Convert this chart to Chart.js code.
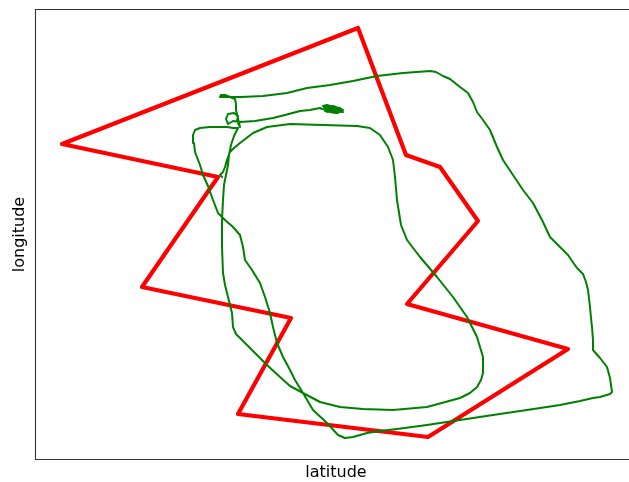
<!DOCTYPE html>
<html>
<head>
<meta charset="utf-8">
<script src="https://cdn.jsdelivr.net/npm/chart.js@4/dist/chart.umd.min.js"></script>
<style>
  html, body { margin: 0; padding: 0; overflow: hidden; background: #fff; }
  #wrap { width: 640px; height: 482px; }
</style>
</head>
<body>
<div id="wrap"><canvas id="chart" width="640" height="482"></canvas></div>
<script>
// Survey boundary (closed polygon), local grid units
const boundaryLat = [322, 370, 404, 442, 371, 532, 392, 202, 255, 106, 182, 26, 322];
const boundaryLon = [431, 304, 292, 238, 155, 110, 22, 45, 141, 172, 282, 315, 431];

// Recorded GPS track, local grid units (starts with the fixes logged while standing still)
const trackLat = [
  288, 294, 302, 307, 304, 296, 289, 292, 299, 306, 301, 293, 290, 297, 305, 303, 295, 291,
  302, 306, 300, 294, 290, 287, 291, 297, 304, 307, 299, 292, 286,
  284, 274, 264, 249, 237, 219, 204,
  197, 192, 190, 192, 198, 202, 201, 204,
  200, 200, 199, 194, 189, 185, 184, 188, 194,
  205, 227, 251, 271, 294, 317, 341, 367, 394, 400, 407, 414, 424, 432, 437, 441, 447, 454,
  461, 467, 477, 487, 497, 506, 514, 524, 532, 536, 541, 547, 550, 552, 554, 555, 556, 557,
  557, 564, 571, 574, 576, 574, 564, 557, 544, 524, 491, 457, 424, 391, 361, 344, 331, 317,
  309, 302, 291, 277, 267, 259, 254, 247, 241, 237, 234, 229, 224, 216, 209, 207, 204, 197,
  189, 182, 177, 172, 167, 164, 159, 158, 157, 159, 164, 174, 184, 191, 197, 202,
  198, 195, 193, 192, 190, 188, 187, 186, 186, 187, 189, 191, 194, 196, 197, 200, 206, 219,
  231, 244, 254, 267, 284, 304, 327, 357, 391, 424, 434, 441, 445, 447, 447, 441, 431, 417,
  401, 384, 371, 365, 361, 359, 357, 352, 344, 334, 321, 287, 254, 231, 217, 204, 198, 194,
  191, 189, 187, 184, 186
];
const trackLon = [
  352, 353, 351, 349, 347, 347, 348, 351, 350, 348, 346, 349, 352, 353, 350, 348, 350, 347,
  349, 348, 346, 347, 350, 353, 354, 352, 351, 347, 348, 349, 350,
  351, 349, 348, 344, 341, 338, 337,
  338, 335, 340, 345, 346, 343, 338, 332,
  349, 355, 360, 362, 364, 364, 362, 362, 362,
  362, 363, 366, 371, 374, 378, 383, 386, 388, 387, 383, 380, 372, 366, 357, 347, 339, 329,
  312, 299, 284, 269, 256, 239, 222, 212, 204, 198, 191, 185, 177, 169, 152, 141, 132, 119,
  109, 101, 92, 81, 67, 65, 62, 61, 58, 54, 49, 44, 39, 34, 30, 28, 26, 22,
  21, 24, 36, 49, 66, 79, 89, 102, 116, 132, 146, 162, 176, 189, 199, 212, 224, 232,
  239, 246, 259, 273, 284, 294, 307, 316, 324, 329, 331, 332, 332, 332, 331, 331,
  323, 314, 304, 294, 284, 274, 259, 239, 212, 186, 174, 166, 154, 146, 132, 125, 119, 106,
  94, 82, 73, 66, 57, 52, 50, 49, 52, 61, 66, 72, 79, 86, 102, 122, 142, 162,
  182, 202, 219, 234, 259, 282, 299, 312, 324, 331, 333, 334, 335, 332, 326, 316, 311, 307,
  299, 292, 287, 284, 282
];

const toPoints = (xs, ys) => xs.map((x, i) => ({ x, y: ys[i] }));

// Axes spines drawn over the data: left, top and bottom (the right one lies past the edge)
const framePlugin = {
  id: 'frame',
  afterDraw(chart) {
    const { ctx, chartArea: a, width } = chart;
    const l = Math.round(a.left) - 0.5;
    const t = Math.round(a.top) - 0.5;
    const b = Math.round(a.bottom) + 0.5;
    ctx.save();
    ctx.strokeStyle = '#333';
    ctx.lineWidth = 1.1;
    ctx.beginPath();
    ctx.moveTo(width, t);
    ctx.lineTo(l, t);
    ctx.lineTo(l, b);
    ctx.lineTo(width, b);
    ctx.stroke();
    ctx.restore();
  }
};

const titleFont = { family: '"DejaVu Sans", sans-serif', size: 16, lineHeight: 1.1 };

new Chart(document.getElementById('chart'), {
  type: 'scatter',
  data: {
    datasets: [
      {
        label: 'track',
        data: toPoints(trackLat, trackLon),
        showLine: true,
        borderColor: '#008000',
        borderWidth: 2,
        pointRadius: 0,
        borderJoinStyle: 'round',
        borderCapStyle: 'round',
        tension: 0,
        order: 0
      },
      {
        label: 'boundary',
        data: toPoints(boundaryLat, boundaryLon),
        showLine: true,
        borderColor: '#ff0000',
        borderWidth: 4.2,
        pointRadius: 0,
        borderJoinStyle: 'round',
        borderCapStyle: 'round',
        tension: 0,
        order: 1
      }
    ]
  },
  options: {
    responsive: false,
    animation: false,
    devicePixelRatio: 1,
    layout: { padding: { top: 10, right: 4, left: 0, bottom: 0 } },
    plugins: { legend: { display: false }, tooltip: { enabled: false } },
    scales: {
      x: {
        type: 'linear', min: 0, max: 600,
        grid: { display: false }, border: { display: false },
        ticks: { display: false },
        title: { display: true, text: 'latitude', color: '#000', font: titleFont, padding: { top: 0, bottom: 0 } },
        afterFit(scale) { scale.height = 23; }
      },
      y: {
        type: 'linear', min: 0, max: 449,
        grid: { display: false }, border: { display: false },
        ticks: { display: false },
        title: { display: true, text: 'longitude', color: '#000', font: titleFont, padding: { top: 11, bottom: 0 } },
        afterFit(scale) { scale.width = 36; }
      }
    }
  },
  plugins: [framePlugin]
});
</script>
</body>
</html>
